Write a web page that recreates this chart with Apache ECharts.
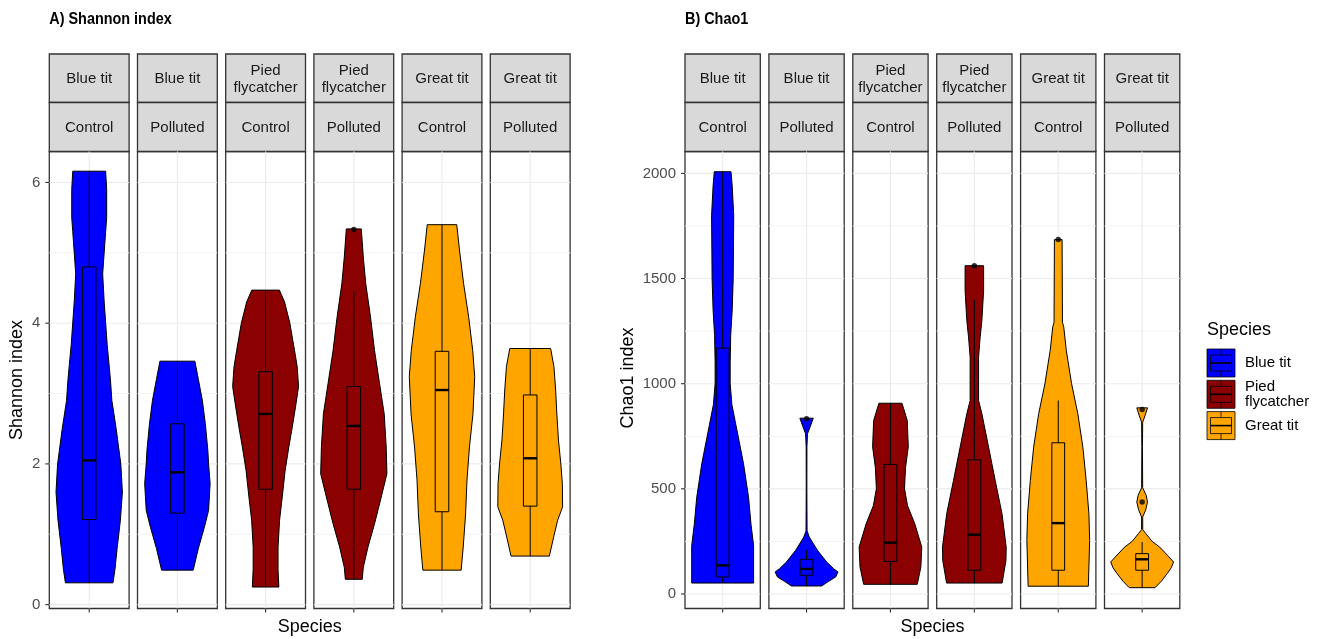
<!DOCTYPE html>
<html><head><meta charset="utf-8">
<script src="https://cdn.jsdelivr.net/npm/echarts@6/dist/echarts.min.js"></script>
<style>html,body{margin:0;padding:0;background:#fff}#c{width:1320px;height:639px}</style>
</head><body><div id="c"></div>
<script>
// ---------------- DATA ----------------
const speciesNames = ['Blue tit', 'Pied flycatcher', 'Great tit'];
const speciesColors = ['#0000FF', '#8B0000', '#FFA500'];
const treatments = ['Control', 'Polluted'];
const facetSpecies = [0, 0, 1, 1, 2, 2];
const facetTreatment = [0, 1, 0, 1, 0, 1];
const facetStripLabels = ['Blue tit', 'Blue tit', 'Pied\nflycatcher', 'Pied\nflycatcher', 'Great tit', 'Great tit'];
const legendLabels = ['Blue tit', 'Pied\nflycatcher', 'Great tit'];

const shannonTicks = [0, 2, 4, 6];
const shannonMinorTicks = [1, 3, 5];
const chaoTicks = [0, 500, 1000, 1500, 2000];
const chaoMinorTicks = [250, 750, 1250, 1750];

// violin profiles: [value, half-width as % of facet band]
const shannonViolins = [
  [[6.16,20.6],[5.9,21.9],[5.5,21.9],[5.3,20.6],[4.7,16.9],[4.3,18.8],[3.7,22.5],[3.2,26.6],[2.9,28.4],[2.5,33.8],[2.0,39.6],[1.6,41.6],[1.2,39.1],[0.8,35.0],[0.5,32.3],[0.31,29.8]],
  [[3.46,21.9],[3.2,26.3],[2.9,31.3],[2.57,35.0],[2.2,38.1],[2.0,39.1],[1.72,41.0],[1.34,39.1],[1.1,33.8],[0.8,26.3],[0.49,19.8]],
  [[4.47,17.3],[4.3,23.8],[4.0,30.4],[3.61,36.3],[3.38,39.6],[3.1,41.3],[2.81,37.5],[2.5,33.1],[2.24,29.1],[1.9,24.4],[1.53,20.9],[1.2,17.5],[0.82,15.6],[0.5,15.6],[0.25,16.6]],
  [[5.34,9.4],[4.94,11.9],[4.56,15.0],[4.09,20.9],[3.61,26.0],[3.14,32.3],[2.71,38.1],[2.24,40.6],[1.86,41.5],[1.53,34.4],[1.15,26.0],[0.82,17.8],[0.53,11.9],[0.36,10.6]],
  [[5.40,18.5],[5.04,21.9],[4.56,27.1],[4.09,33.4],[3.61,38.5],[3.24,41.0],[2.71,38.8],[2.24,34.4],[1.77,31.3],[1.29,29.6],[0.82,26.6],[0.49,24.0]],
  [[3.64,25.6],[3.38,29.8],[3.05,31.9],[2.71,33.4],[2.34,35.4],[2.0,38.4],[1.72,40.3],[1.39,40.6],[1.20,34.4],[0.96,29.4],[0.69,24.0]]
];
// [lower whisker, Q1, median, Q3, upper whisker]
const shannonBoxes = [
  [0.31, 1.21, 2.05, 4.80, 6.16],
  [0.49, 1.30, 1.88, 2.57, 3.46],
  [0.25, 1.64, 2.71, 3.31, 4.47],
  [0.36, 1.64, 2.54, 3.10, 4.46],
  [0.49, 1.32, 3.05, 3.60, 5.40],
  [0.69, 1.40, 2.08, 2.98, 3.64]
];
const shannonOutliers = [[], [], [], [5.33], [], []];

const chaoViolins = [
  [[2008,11.1],[1940,12.7],[1800,14.7],[1500,14.0],[1350,12.7],[1230,10.7],[1100,10.0],[1000,10.0],[900,12.3],[780,18.9],[620,27.7],[460,34.4],[330,37.7],[230,41.1],[52,41.1]],
  [[836,8.9],[800,5.3],[762,1.3],[700,0.5],[500,0.4],[300,0.7],[271,3.6],[208,14.4],[152,26.7],[120,36.0],[105,41.7],[81,38.7],[60,29.3],[38,20.0]],
  [[907,15.3],[825,22.3],[700,23.7],[600,20.0],[500,18.7],[420,22.7],[334,32.3],[223,41.6],[128,40.4],[46,35.6]],
  [[1561,12.3],[1443,12.3],[1300,10.0],[1221,7.7],[1126,5.6],[920,5.6],[857,10.0],[698,18.9],[540,27.7],[382,36.7],[223,42.3],[160,42.0],[52,36.9]],
  [[1685,5.1],[1292,5.6],[1270,7.3],[1158,10.7],[1000,17.7],[857,26.0],[698,32.7],[540,37.1],[382,40.7],[255,41.7],[37,40.0]],
  [[885,7.1],[850,4.0],[817,0.7],[700,0.4],[505,0.7],[470,5.3],[437,7.1],[400,4.7],[366,0.7],[306,0.8],[287,4.9],[250,13.3],[223,23.3],[180,34.7],[152,41.7],[125,38.7],[97,33.3],[60,25.3],[30,17.1]]
];
const chaoBoxes = [
  [52, 81, 136, 1169, 2008],
  [38, 89, 119, 165, 208],
  [46, 155, 244, 616, 907],
  [52, 113, 282, 638, 1398],
  [37, 113, 337, 719, 920],
  [30, 113, 165, 192, 247]
];
const chaoOutliers = [[], [833], [], [1561], [1685], [437, 877]];

// ---------------- LAYOUT / STYLE ----------------
const FONT = '"Liberation Sans", Arial, sans-serif';
const gridTop = 151.5, gridH = 457;
const panels = [
  { title: 'A) Shannon index', yName: 'Shannon index', left0: 49.3, w: 79.8, step: 88.2,
    min: -0.055, max: 6.44, ticks: shannonTicks, minor: shannonMinorTicks,
    violins: shannonViolins, boxes: shannonBoxes, outliers: shannonOutliers, yNameX: 17, yNameY: 380 },
  { title: 'B) Chao1', yName: 'Chao1 index', left0: 685, w: 75.3, step: 83.9,
    min: -69, max: 2104, ticks: chaoTicks, minor: chaoMinorTicks,
    violins: chaoViolins, boxes: chaoBoxes, outliers: chaoOutliers, yNameX: 628, yNameY: 378 }
];

function makeGridLineRender(withYTicks) {
  return function (params, api) {
    const cs = params.coordSys;
    const kind = api.value(2);
    const tickStyle = { stroke: '#333333', lineWidth: 1.1 };
    if (kind === 2) {
      const x = api.coord([0, api.value(1)])[0];
      return { type: 'group', silent: true, children: [
        { type: 'line', shape: { x1: x, y1: cs.y, x2: x, y2: cs.y + cs.height }, style: { stroke: '#EBEBEB', lineWidth: 1.1 } },
        { type: 'line', shape: { x1: x, y1: cs.y + cs.height, x2: x, y2: cs.y + cs.height + 4 }, style: tickStyle }
      ] };
    }
    const y = api.coord([0, api.value(1)])[1];
    const children = [
      { type: 'line', shape: { x1: cs.x, y1: y, x2: cs.x + cs.width, y2: y },
        style: { stroke: kind === 1 ? '#EBEBEB' : '#F3F3F3', lineWidth: kind === 1 ? 1.1 : 1 } }
    ];
    if (withYTicks && kind === 1) {
      children.push({ type: 'line', shape: { x1: cs.x - 4, y1: y, x2: cs.x, y2: y }, style: tickStyle });
    }
    return { type: 'group', silent: true, children: children };
  };
}
function makeViolinRender(profile, color) {
  return function (params, api) {
    if (params.dataIndex !== 0) return null;
    const band = api.size([1, 0])[0];
    const right = [], left = [];
    profile.forEach(function (p) {
      const c = api.coord([0, p[0]]);
      const hw = p[1] / 100 * band;
      right.push([c[0] + hw, c[1]]);
      left.push([c[0] - hw, c[1]]);
    });
    return { type: 'polygon', shape: { points: right.concat(left.reverse()) },
      style: { fill: color, stroke: '#000', lineWidth: 1 } };
  };
}
function makeBoxRender(color) {
  return function (params, api) {
    const band = api.size([1, 0])[0];
    const half = 0.085 * band;
    const pMin = api.coord([0, api.value(1)]);
    const x = pMin[0];
    const yMin = pMin[1];
    const yQ1 = api.coord([0, api.value(2)])[1];
    const yMed = api.coord([0, api.value(3)])[1];
    const yQ3 = api.coord([0, api.value(4)])[1];
    const yMax = api.coord([0, api.value(5)])[1];
    const ls = { stroke: '#000', lineWidth: 1 };
    return { type: 'group', children: [
      { type: 'line', shape: { x1: x, y1: yQ3, x2: x, y2: yMax }, style: ls },
      { type: 'line', shape: { x1: x, y1: yQ1, x2: x, y2: yMin }, style: ls },
      { type: 'rect', shape: { x: x - half, y: yQ3, width: 2 * half, height: yQ1 - yQ3 }, style: { fill: color, stroke: '#000', lineWidth: 1 } },
      { type: 'line', shape: { x1: x - half, y1: yMed, x2: x + half, y2: yMed }, style: { stroke: '#000', lineWidth: 2.4 } }
    ] };
  };
}

const grids = [], xAxes = [], yAxes = [], series = [], graphics = [];
let gi = 0;
panels.forEach(function (p) {
  graphics.push({ type: 'text', x: p.left0, y: 20, scaleX: 0.9, originX: 0, originY: 0,
    style: { text: p.title, font: 'bold 16px ' + FONT, fill: '#000', verticalAlign: 'middle', align: 'left' } });
  graphics.push({ type: 'text', x: p.yNameX, y: p.yNameY, rotation: Math.PI / 2,
    style: { text: p.yName, font: '18px ' + FONT, fill: '#000', align: 'center', verticalAlign: 'middle' } });
  const right = p.left0 + 5 * p.step + p.w;
  graphics.push({ type: 'text', x: (p.left0 + right) / 2, y: 627,
    style: { text: 'Species', font: '18px ' + FONT, fill: '#000', align: 'center', verticalAlign: 'middle' } });

  for (let f = 0; f < 6; f++) {
    const left = p.left0 + f * p.step;
    const col = speciesColors[facetSpecies[f]];
    grids.push({ left: left, top: gridTop, width: p.w, height: gridH, show: true,
      borderColor: '#333333', borderWidth: 1.3, backgroundColor: '#fff' });
    xAxes.push({ type: 'category', gridIndex: gi, data: [''], boundaryGap: true,
      axisLine: { show: false, onZero: false }, axisTick: { show: false },
      axisLabel: { show: false }, splitLine: { show: false } });
    yAxes.push({ type: 'value', gridIndex: gi, min: p.min, max: p.max,
      axisLine: { show: false }, splitLine: { show: false }, axisTick: { show: false },
      axisLabel: { show: f === 0, customValues: p.ticks, margin: 9, color: '#4D4D4D', fontSize: 15, fontFamily: FONT,
        formatter: function (v) { return String(v); } } });

    const gl = p.ticks.map(v => [0, v, 1]).concat(p.minor.map(v => [0, v, 0])).concat([[0, p.min, 2]]);
    series.push({ type: 'custom', xAxisIndex: gi, yAxisIndex: gi, z: 1, silent: true, clip: false,
      data: gl, encode: { x: 0, y: 1 }, renderItem: makeGridLineRender(f === 0) });
    series.push({ type: 'custom', name: speciesNames[facetSpecies[f]], xAxisIndex: gi, yAxisIndex: gi, z: 2, silent: true,
      data: p.violins[f].map(d => [0, d[0], d[1]]), encode: { x: 0, y: 1 },
      renderItem: makeViolinRender(p.violins[f], col) });
    series.push({ type: 'custom', xAxisIndex: gi, yAxisIndex: gi, z: 3, silent: true,
      data: [[0].concat(p.boxes[f])], encode: { x: 0, y: [1, 2, 3, 4, 5] },
      renderItem: makeBoxRender(col) });
    series.push({ type: 'scatter', xAxisIndex: gi, yAxisIndex: gi, z: 4, silent: true,
      data: p.outliers[f].map(v => [0, v]), symbolSize: 5.5, itemStyle: { color: '#000' } });

    graphics.push({ type: 'rect', shape: { x: left, y: 54, width: p.w, height: 48.5 },
      style: { fill: '#D9D9D9', stroke: '#333333', lineWidth: 1.3 } });
    graphics.push({ type: 'rect', shape: { x: left, y: 102.5, width: p.w, height: 49 },
      style: { fill: '#D9D9D9', stroke: '#333333', lineWidth: 1.3 } });
    graphics.push({ type: 'text', x: left + p.w / 2, y: 79,
      style: { text: facetStripLabels[f], font: '15px ' + FONT, fill: '#1A1A1A', align: 'center', verticalAlign: 'middle', lineHeight: 17 } });
    graphics.push({ type: 'text', x: left + p.w / 2, y: 128,
      style: { text: treatments[facetTreatment[f]], font: '15px ' + FONT, fill: '#1A1A1A', align: 'center', verticalAlign: 'middle' } });
    gi++;
  }
});

// legend
const lgX = 1207, lgY0 = 349, lgStep = 31.3, key = 28;
graphics.push({ type: 'text', x: lgX, y: 330,
  style: { text: 'Species', font: '18px ' + FONT, fill: '#000', align: 'left', verticalAlign: 'middle' } });
speciesNames.forEach(function (s, i) {
  const y = lgY0 + i * lgStep;
  const cx = lgX + key / 2;
  const ls = { stroke: '#000', lineWidth: 0.8 };
  graphics.push({ type: 'group', children: [
    { type: 'rect', shape: { x: lgX, y: y, width: key, height: key }, style: { fill: speciesColors[i], stroke: '#000', lineWidth: 0.8 } },
    { type: 'line', shape: { x1: cx, y1: y, x2: cx, y2: y + 6 }, style: ls },
    { type: 'line', shape: { x1: cx, y1: y + 22, x2: cx, y2: y + 28 }, style: ls },
    { type: 'rect', shape: { x: lgX + 3.5, y: y + 6, width: 21, height: 16 }, style: { fill: speciesColors[i], stroke: '#000', lineWidth: 0.8 } },
    { type: 'line', shape: { x1: lgX + 3.5, y1: y + 14, x2: lgX + 24.5, y2: y + 14 }, style: { stroke: '#000', lineWidth: 1.6 } }
  ] });
  graphics.push({ type: 'text', x: lgX + 38, y: y + key / 2,
    style: { text: legendLabels[i], font: '15px ' + FONT, fill: '#000', align: 'left', verticalAlign: 'middle', lineHeight: 15 } });
});

const chart = echarts.init(document.getElementById('c'), null, { renderer: 'canvas' });
chart.setOption({
  animation: false,
  backgroundColor: '#fff',
  grid: grids, xAxis: xAxes, yAxis: yAxes, series: series,
  graphic: { elements: graphics }
});
</script></body></html>
